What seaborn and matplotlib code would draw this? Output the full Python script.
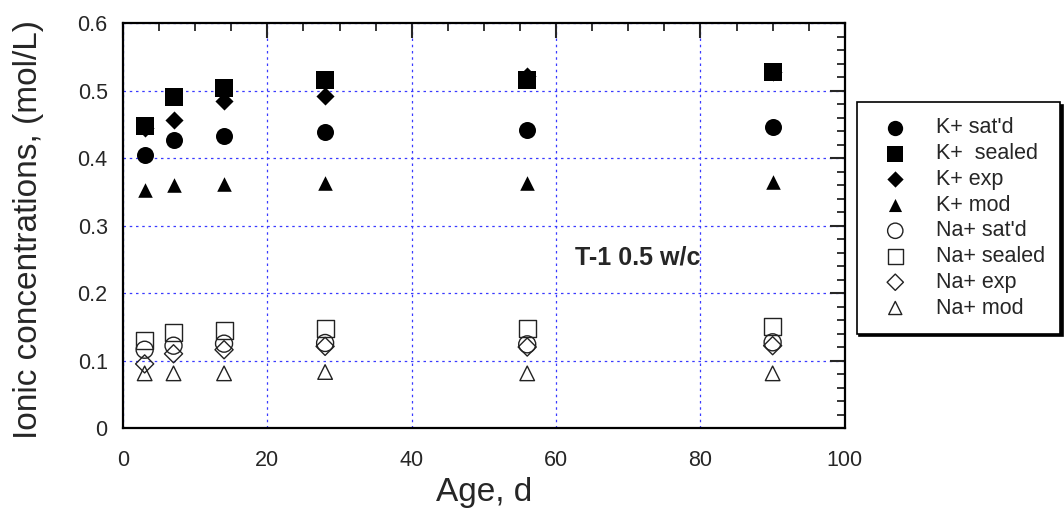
import pandas as pd
import matplotlib.pyplot as plt
import seaborn as sns
from matplotlib.ticker import MultipleLocator

age = [3, 7, 14, 28, 56, 90]

k_satd = [0.404, 0.426, 0.433, 0.439, 0.441, 0.446]
k_sealed = [0.447, 0.490, 0.504, 0.515, 0.515, 0.528]
k_exp = [0.445, 0.457, 0.485, 0.492, 0.522, 0.527]
k_mod = [0.353, 0.360, 0.362, 0.363, 0.363, 0.365]
na_satd = [0.116, 0.122, 0.125, 0.126, 0.124, 0.127]
na_sealed = [0.129, 0.141, 0.145, 0.148, 0.147, 0.150]
na_exp = [0.095, 0.110, 0.116, 0.121, 0.120, 0.122]
na_mod = [0.081, 0.081, 0.081, 0.083, 0.081, 0.081]

# name, values, marker, filled, size, zorder
series = [
    ("K+ sat'd", k_satd, 'o', True, 150, 4),
    ("K+  sealed", k_sealed, 's', True, 150, 5),
    ("K+ exp", k_exp, 'D', True, 85, 3),
    ("K+ mod", k_mod, '^', True, 110, 4),
    ("Na+ sat'd", na_satd, 'o', False, 150, 4),
    ("Na+ sealed", na_sealed, 's', False, 150, 4),
    ("Na+ exp", na_exp, 'D', False, 85, 4),
    ("Na+ mod", na_mod, '^', False, 110, 4),
]

sns.set_style("white")
plt.rcParams['font.family'] = ['Liberation Sans', 'DejaVu Sans']

fig = plt.figure(figsize=(10.64, 5.12), dpi=100)
ax = fig.add_axes([0.1156, 0.164, 0.6784, 0.791])

for name, vals, mk, filled, sz, z in series:
    df = pd.DataFrame({'Age': age, 'conc': vals})
    if filled:
        sns.scatterplot(data=df, x='Age', y='conc', ax=ax, marker=mk, s=sz,
                        color='black', edgecolor='black', linewidth=0,
                        label=name, zorder=z)
    else:
        sns.scatterplot(data=df, x='Age', y='conc', ax=ax, marker=mk, s=sz,
                        facecolor='none', edgecolor='#222222', linewidth=1.0,
                        label=name, zorder=z)

ax.set_xlim(0, 100)
ax.set_ylim(0, 0.6)
ax.xaxis.set_minor_locator(MultipleLocator(5))
ax.yaxis.set_minor_locator(MultipleLocator(0.02))
ax.set_yticks([0, 0.1, 0.2, 0.3, 0.4, 0.5, 0.6])
ax.set_yticklabels(['0', '0.1', '0.2', '0.3', '0.4', '0.5', '0.6'])
ax.set_xticks([0, 20, 40, 60, 80, 100])
ax.set_xticklabels(['0', '20', '40', '60', '80', '100'])

ax.tick_params(which='major', direction='in', length=11, width=1.5,
               top=True, right=True, labelsize=15.5)
ax.tick_params(axis='x', which='major', pad=16)
ax.tick_params(axis='y', which='major', pad=11)
ax.tick_params(which='minor', direction='in', length=6, width=1.3,
               top=True, right=True)
for sp in ax.spines.values():
    sp.set_linewidth(1.6)
    sp.set_color('black')

ax.grid(True, which='major', color='#3a3aff', linestyle=(0, (2, 3)), linewidth=0.9)
ax.set_axisbelow(True)

ax.set_xlabel('Age, d', fontsize=24)
ax.set_ylabel('Ionic concentrations, (mol/L)', fontsize=24)
ax.xaxis.set_label_coords(0.5, -0.122)
ax.yaxis.set_label_coords(-0.11, 0.49)

ax.text(62.6, 0.252, 'T-1 0.5 w/c', fontsize=18, fontweight='bold', va='center')

leg = ax.legend(loc='upper left', bbox_to_anchor=(0.805, 0.80), bbox_transform=fig.transFigure,
                borderaxespad=0, frameon=True, fancybox=False,
                shadow={'color': 'black', 'alpha': 1},
                fontsize=15.5, handletextpad=0.8, labelspacing=0.22, borderpad=0.7,
                markerscale=0.9, edgecolor='black', handlelength=2.2)
leg.get_frame().set_linewidth(1.2)

fig.savefig('out.png', dpi=100)
